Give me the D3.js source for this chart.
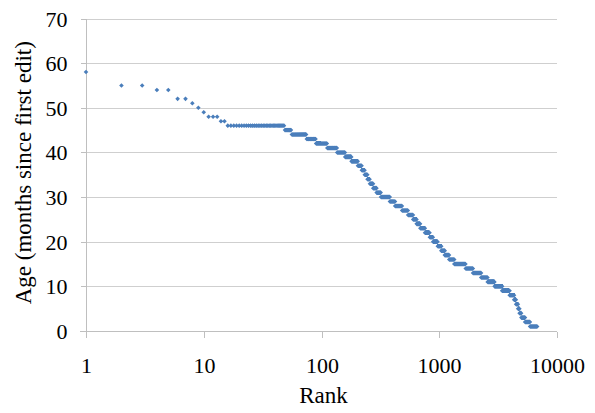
<!DOCTYPE html>
<html>
<head>
<meta charset="utf-8">
<script src="https://cdn.jsdelivr.net/npm/d3@7/dist/d3.min.js"></script>
</head>
<body style="margin:0;background:#fff">
<svg id="chart" width="595" height="413" style="display:block">
<text id="xtitle" x="323" y="403" text-anchor="middle" style="font-family:'Liberation Serif'; font-size:23px" fill="#000">Rank</text>
<text id="ytitle" transform="translate(31,173) rotate(-90)" text-anchor="middle" style="font-family:'Liberation Serif'; font-size:23px" fill="#000">Age (months since first edit)</text>
</svg>
<script>
// Age (months) of each run of tied ranks, and the last rank in that run
const ages    = [58, 55, 54, 52, 51, 50, 49, 48, 47,
                 46, 45, 44, 43, 42, 41, 40, 39, 38, 37,
                 36, 35, 34, 33, 32, 31, 30, 29, 28, 27,
                 26, 25, 24, 23, 22, 21, 20, 19, 18, 17,
                 16, 15, 14, 13, 12, 11, 10, 9, 8, 7,
                 6, 5, 4, 3, 2, 1];
const runEnds = [1, 3, 5, 7, 8, 9, 10, 13, 15,
                 48, 55, 74, 89, 111, 135, 158, 179, 203, 219,
                 232, 245, 257, 274, 293, 319, 380, 421, 483, 543,
                 600, 642, 690, 756, 831, 886, 971, 1040, 1113, 1215,
                 1341, 1677, 1934, 2270, 2577, 2953, 3419, 3964, 4321, 4493,
                 4673, 4812, 4983, 5356, 5904, 6810];
const xTicks = [1, 10, 100, 1000, 10000];
const yTicks = [0, 10, 20, 30, 40, 50, 60, 70];
const xTitle = "Rank";
const yTitle = "Age (months since first edit)";

// runs of tied ranks: every rank from start to end has that run's age
const runs = [];
let start = 1;
ages.forEach((a, i) => {
  runs.push({age: a, start: start, end: runEnds[i]});
  start = runEnds[i] + 1;
});

const FONT = "font-family:'Liberation Serif'; font-size:22px";
const svg = d3.select("#chart");
const x = d3.scaleLog().domain([1, 10000]).range([86, 557]);
const y = d3.scaleLinear().domain([0, 70]).range([331, 18.5]);

// gridlines
svg.insert("g", "text")
  .selectAll("line")
  .data(yTicks.filter(d => d > 0))
  .join("line")
  .attr("x1", x(1)).attr("x2", x(10000))
  .attr("y1", d => Math.round(y(d)) + 0.5).attr("y2", d => Math.round(y(d)) + 0.5)
  .attr("stroke", "#cfcfcf").attr("stroke-width", 1)
  .attr("shape-rendering", "crispEdges");

// y axis
const yAxis = svg.append("g")
  .attr("transform", `translate(${Math.round(x(1)) + 0.5},0)`)
  .call(d3.axisLeft(y).tickValues(yTicks).tickSize(6).tickPadding(13).tickFormat(d3.format("d")));
yAxis.attr("font-family", "Liberation Serif");
yAxis.selectAll("line, path").attr("stroke", "#bfbfbf").attr("shape-rendering", "crispEdges");
yAxis.select(".domain").attr("d", `M0,${y(70)}V${y(0)}`);
yAxis.selectAll(".tick").attr("transform", d => `translate(0,${Math.round(y(d)) + 0.5})`);
yAxis.selectAll("text").attr("style", FONT).attr("fill", "#000").attr("dy", "0.33em");

// x axis
const xAxis = svg.append("g")
  .attr("transform", `translate(0,${Math.round(y(0)) + 0.5})`)
  .call(d3.axisBottom(x).tickValues(xTicks).tickSize(6).tickPadding(20).tickFormat(d3.format("d")));
xAxis.attr("font-family", "Liberation Serif");
xAxis.selectAll("line, path").attr("stroke", "#bfbfbf").attr("shape-rendering", "crispEdges");
xAxis.select(".domain").attr("d", `M${x(1) - 6},0H${x(10000)}`);
xAxis.selectAll(".tick").attr("transform", d => `translate(${Math.round(x(d)) + 0.5},0)`);
xAxis.selectAll("text").attr("style", FONT).attr("fill", "#000");

// points: one diamond per rank, grouped in one path per run
const h = 2.3;
svg.append("g")
  .selectAll("path")
  .data(runs)
  .join("path")
  .attr("d", r => {
    const yy = y(r.age);
    let d = "", lastX = -1;
    for (let k = r.start; k <= r.end; k++) {
      const xx = x(k);
      if (xx - lastX < 0.25) continue; // same pixel position already drawn
      lastX = xx;
      d += `M${xx.toFixed(2)},${(yy - h).toFixed(2)}l${h},${h}l${-h},${h}l${-h},${-h}z`;
    }
    return d;
  })
  .attr("fill", "#4a7ebb");

// titles
d3.select("#xtitle").attr("x", (x(1) + x(10000)) / 2 + 2).attr("y", 403).text(xTitle);
d3.select("#ytitle").attr("transform", `translate(31,${(y(0) + y(70)) / 2 - 2}) rotate(-90)`).text(yTitle);
</script>
</body>
</html>
